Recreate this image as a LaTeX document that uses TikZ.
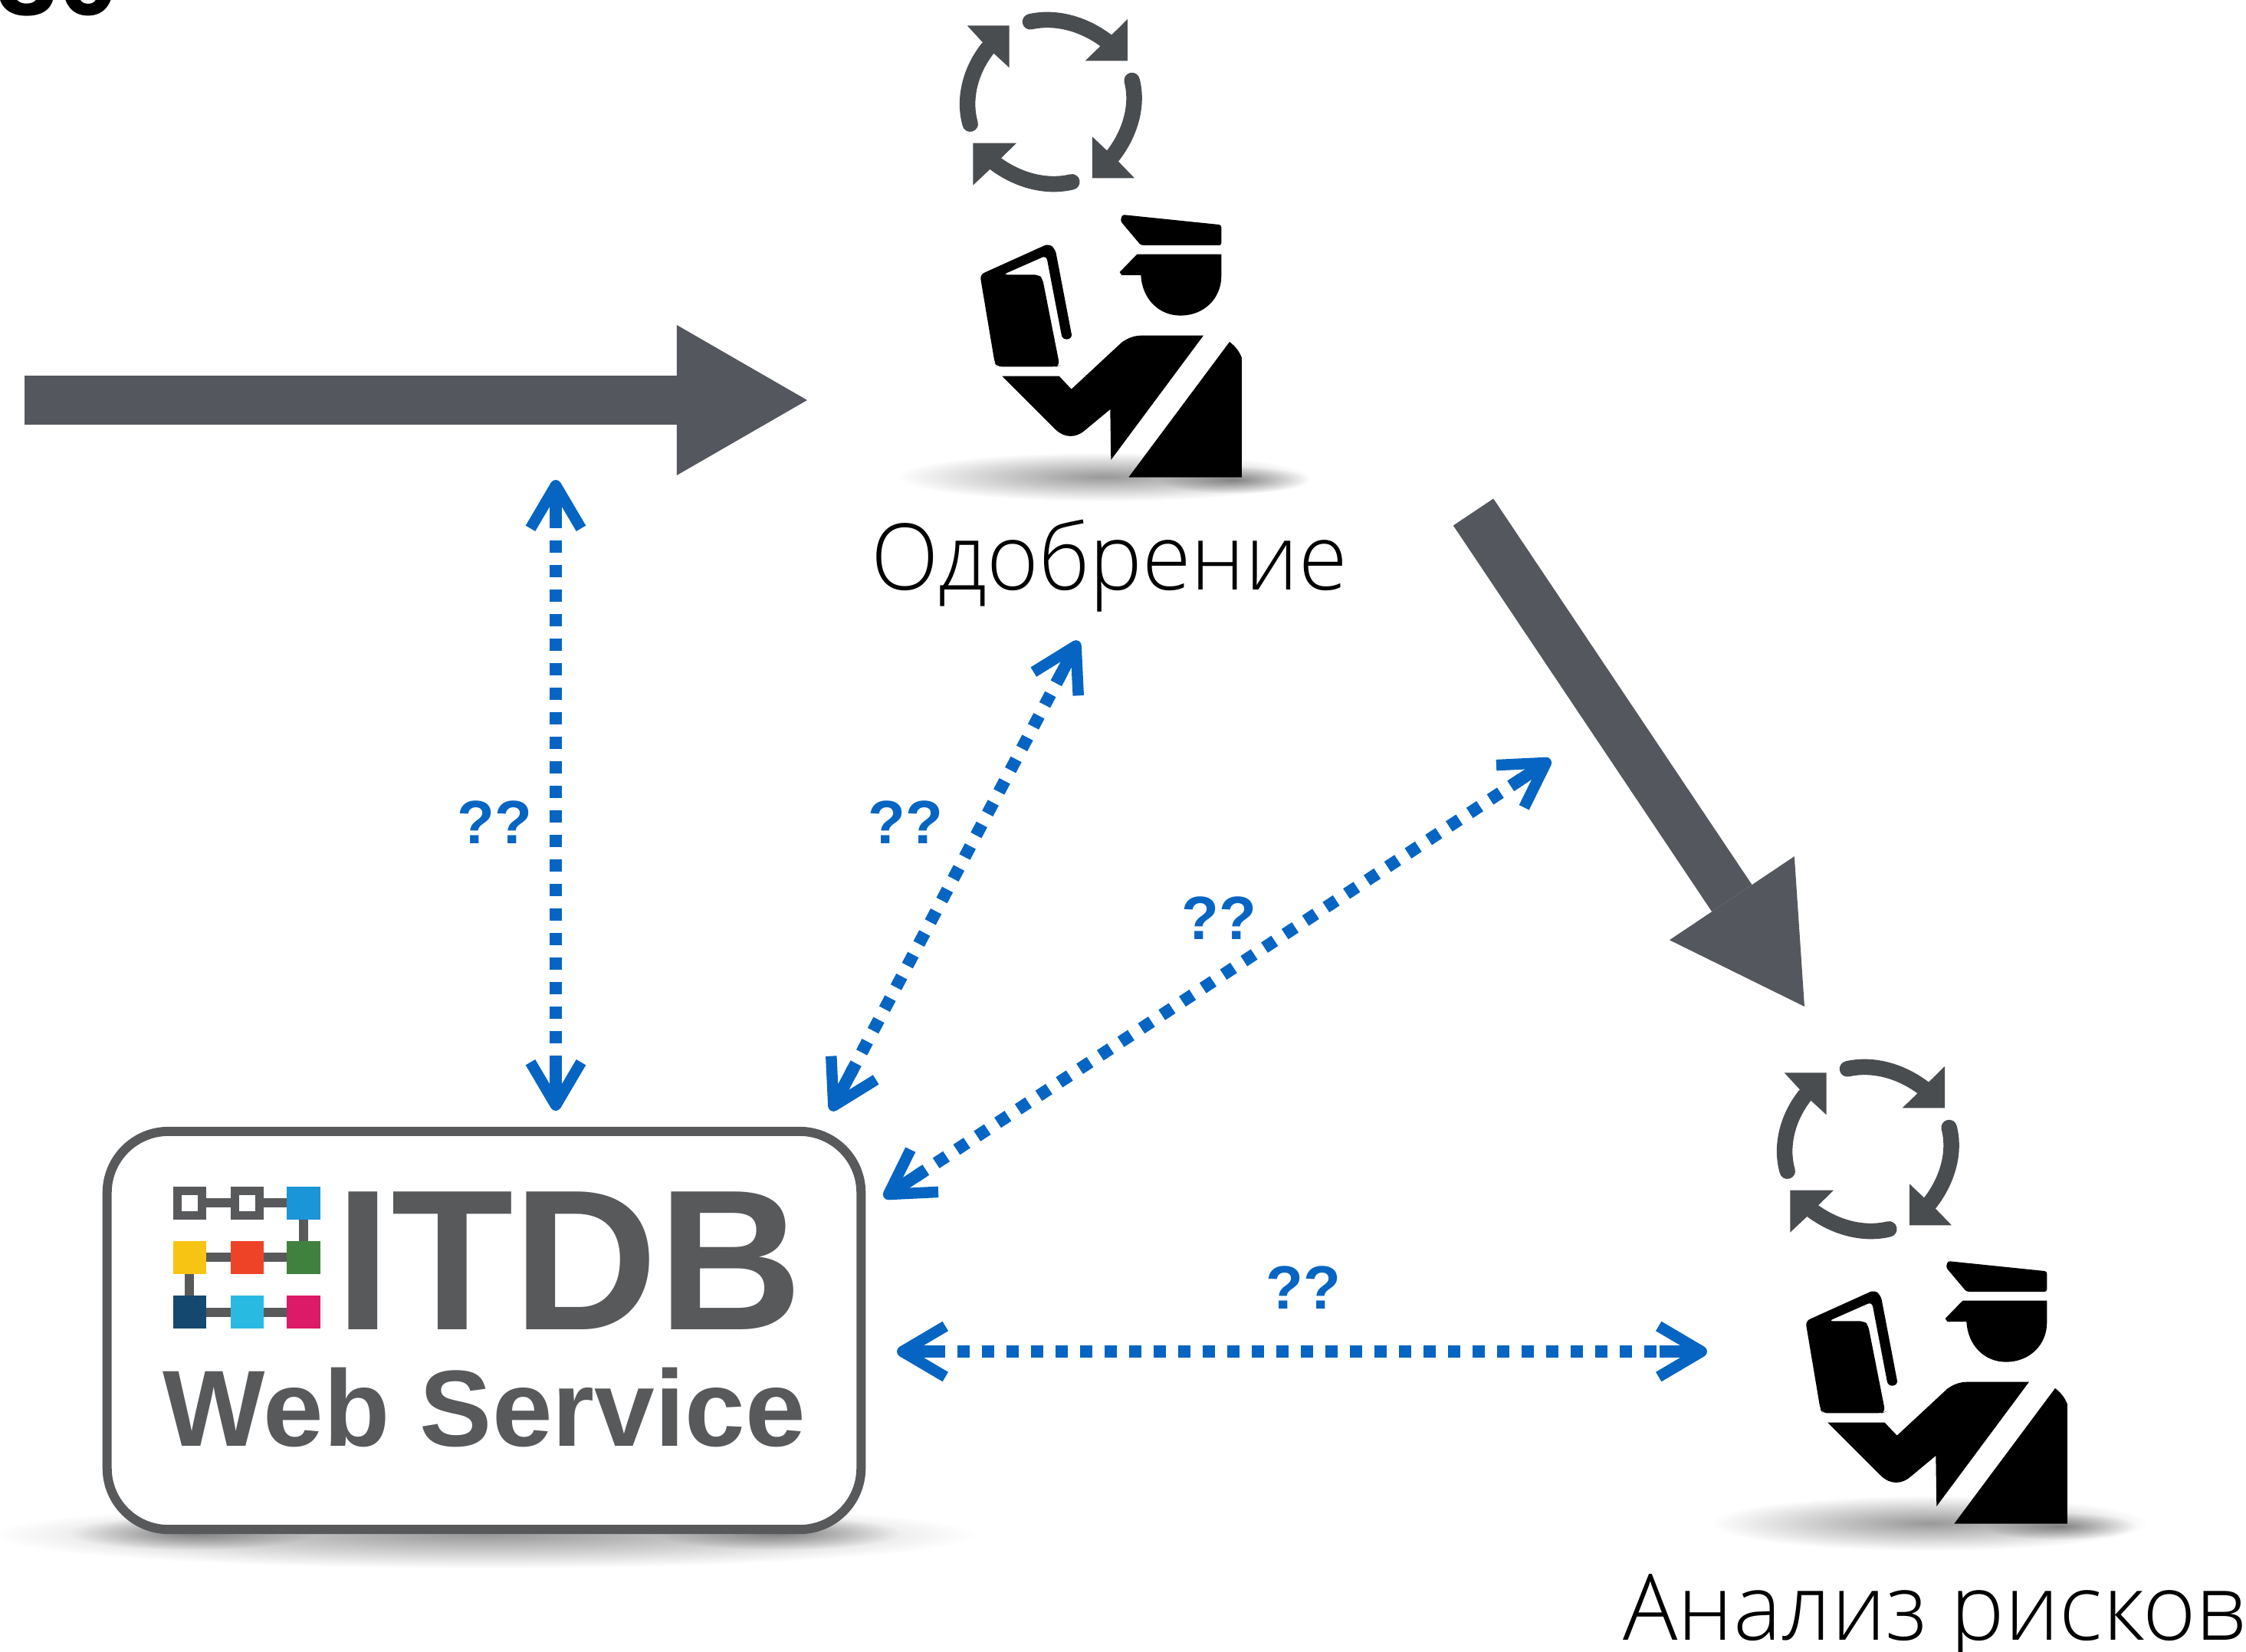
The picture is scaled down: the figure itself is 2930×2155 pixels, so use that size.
\documentclass[tikz,border=0pt]{standalone}
\usepackage{fontspec}
\usepackage{graphicx}
\setmainfont{Liberation Sans}
\newfontfamily\lightfont{Open Sans Light}
\usetikzlibrary{arrows.meta,calc,fadings}
\definecolor{linkblue}{HTML}{0665C2}
\definecolor{slate}{HTML}{54585E}
\definecolor{logogray}{HTML}{58595B}
\definecolor{cyclegray}{HTML}{4A4D50}
\definecolor{cellblue}{HTML}{1A96D8}
\definecolor{cellyellow}{HTML}{F8C413}
\definecolor{cellred}{HTML}{EE4327}
\definecolor{cellgreen}{HTML}{41813F}
\definecolor{cellnavy}{HTML}{15486F}
\definecolor{cellcyan}{HTML}{29BAE2}
\definecolor{cellpink}{HTML}{DC1A68}
\tikzfading[name=softfade,inner color=transparent!60,outer color=transparent!100]
\tikzset{
  bigarrow/.style={draw=slate,fill=slate,line width=0.63cm,-{Triangle[length=1.7cm,width=1.96cm,line width=0pt]}},
  linkline/.style={draw=linkblue,line width=0.16cm,dash pattern=on 0.16cm off 0.16cm,
    {Straight Barb[length=0.56cm,width=0.66cm,line width=0.145cm,line cap=butt,line join=round]}-{Straight Barb[length=0.56cm,width=0.66cm,line width=0.145cm,line cap=butt,line join=round]}},
  linkstub/.style={draw=linkblue,line width=0.16cm},
  qlabel/.style={text=linkblue,anchor=base,inner sep=0pt,font=\bfseries\fontsize{22.7}{26}\selectfont},
  steplabel/.style={anchor=base west,inner sep=0pt,font=\lightfont\fontsize{34.1}{40}\selectfont},
  webbox/.style={draw=logogray,fill=white,line width=0.12cm,rounded corners=0.8cm,minimum width=9.83cm,minimum height=5.19cm,inner sep=0pt},
  logotext/.style={text=logogray,anchor=base west,inner sep=0pt},
  officer/.pic={
    \fill[rounded corners=0.03cm] (702,30) -- (1090,70) -- (1090,150) -- (775,150) -- (695,55) -- cycle;
    \fill (760,185) -- (1090,185) -- (1090,270) .. controls (1090,360) and (1020,425) .. (930,425) .. controls (845,425) and (780,360) .. (775,267) -- (700,267) -- (692,255) -- cycle;
    \fill[rounded corners=0.06cm] (145,265) -- (415,143) -- (440,165) -- (507,515) -- (468,520) -- (405,190) -- (235,265) -- (375,265) -- (390,280) -- (457,620) -- (445,625) -- (212,625) -- (203,610) -- cycle;
    \fill (232,662) -- (455,662) -- (503,713) -- (700,530) .. controls (725,512) and (750,503) .. (780,503) -- (1020,503) -- (658,990) -- (655,792) -- (555,875) .. controls (520,905) and (475,905) .. (440,870) -- cycle;
    \fill (1122,528) .. controls (1145,545) and (1160,565) .. (1170,590) -- (1170,1058) -- (727,1058) -- cycle;
  },
  spin/.pic={
    \begin{scope}[cyclegray,line width=0.205cm,line cap=round]
      \draw (312,85) .. controls (400,65) and (510,85) .. (610,160);
      \draw (710,315) .. controls (735,410) and (705,520) .. (635,610);
      \draw (475,712) .. controls (380,735) and (270,710) .. (175,640);
      \draw (77,485) .. controls (50,390) and (75,280) .. (145,190);
      \fill (693,75) -- (693,238) -- (527,238) -- (587,180) -- (630,137) -- cycle;
      \fill (555,535) -- (615,592) -- (657,632) -- (720,697) -- (555,697) -- cycle;
      \fill (258,560) -- (195,622) -- (155,662) -- (88,725) -- (88,560) -- cycle;
      \fill (65,100) -- (125,165) -- (165,205) -- (230,265) -- (230,100) -- cycle;
    \end{scope}
  }
}
\newcommand{\linkarrow}[2]{%
  \draw[linkline] (#1) -- (#2);
  \draw[linkstub] ($(#1)!0.12cm!(#2)$) -- ($(#1)!0.62cm!(#2)$);
  \draw[linkstub] ($(#2)!0.12cm!(#1)$) -- ($(#2)!0.62cm!(#1)$);
}
\newcommand{\softshade}[4]{\fill[black,path fading=softfade,fit fading=true] (#1,#2) ellipse [x radius=#3,y radius=#4];}
\begin{document}
\begin{tikzpicture}[x=0.01cm,y=-0.01cm]
\useasboundingbox (0,0) rectangle (2930,2155);
% shadows
\softshade{1440}{622}{270}{32}
\softshade{1610}{626}{100}{18}
\softshade{2517}{1987}{285}{36}
\softshade{2687}{1991}{100}{18}
\softshade{632}{2002}{640}{44}
\softshade{250}{2000}{160}{22}
\softshade{1015}{2000}{160}{22}
% top-left cut-off text
\node[anchor=base west,inner sep=0pt,font=\bfseries\fontsize{41}{44}\selectfont] (cut) at (-5,20) {30};
% approvers
\pic[scale=0.3333] at (1240,0) {spin};
\pic[scale=0.3333] at (1230,270) {officer};
\pic[scale=0.3333] at (2306,1366) {spin};
\pic[scale=0.3333] at (2307,1635) {officer};
\node[steplabel] (approve) at (1136,769) {\scalebox{0.965}[1]{Одобрение}};
\node[steplabel] (risk) at (2117,2139) {\scalebox{0.99}[1]{Анализ рисков}};
% web service box
\node[webbox] (itdb) at (631.5,1735.5) {};
\foreach \x/\y in {260/1569,335/1569,260/1640,335/1640,260/1712,335/1712}{
  \fill[logogray] (\x,\y-6) rectangle (\x+50,\y+6);
}
\fill[logogray] (390,1591) rectangle (402,1619);
\fill[logogray] (241,1662) rectangle (253,1690);
\fill[logogray] (226,1548) rectangle (269,1591);
\fill[logogray] (301,1548) rectangle (344,1591);
\fill[white] (237,1559) rectangle (258,1580);
\fill[white] (312,1559) rectangle (333,1580);
\fill[cellblue] (374,1548) rectangle (418,1591);
\fill[cellyellow] (226,1619) rectangle (269,1662);
\fill[cellred] (301,1619) rectangle (344,1662);
\fill[cellgreen] (374,1619) rectangle (418,1662);
\fill[cellnavy] (226,1690) rectangle (269,1733);
\fill[cellcyan] (301,1690) rectangle (344,1733);
\fill[cellpink] (374,1690) rectangle (418,1733);
\node[logotext,font=\bfseries\fontsize{74.3}{80}\selectfont] (logoname) at (437,1734) {ITDB};
\node[logotext,font=\bfseries\fontsize{40.2}{44}\selectfont] (logosub) at (212,1886) {Web Service};
% process arrows
\coordinate (inS) at (32,522); \coordinate (inE) at (1053,522);
\coordinate (outS) at (1922,668); \coordinate (outE) at (2354,1313);
\draw[bigarrow] (inS) -- (inE);
\draw[bigarrow] (outS) -- (outE);
% dotted links
\coordinate (a1) at (725,626); \coordinate (a2) at (725,1449);
\coordinate (b1) at (1407,836); \coordinate (b2) at (1084,1449);
\coordinate (c1) at (2023,991); \coordinate (c2) at (1153,1562);
\coordinate (d1) at (1170,1763); \coordinate (d2) at (2227,1763);
\linkarrow{a1}{a2}
\linkarrow{b1}{b2}
\linkarrow{c1}{c2}
\linkarrow{d1}{d2}
\node[qlabel] (q1) at (645,1100) {??};
\node[qlabel] (q2) at (1181,1100) {??};
\node[qlabel] (q3) at (1590,1225) {??};
\node[qlabel] (q4) at (1700,1707) {??};
\end{tikzpicture}
\end{document}
